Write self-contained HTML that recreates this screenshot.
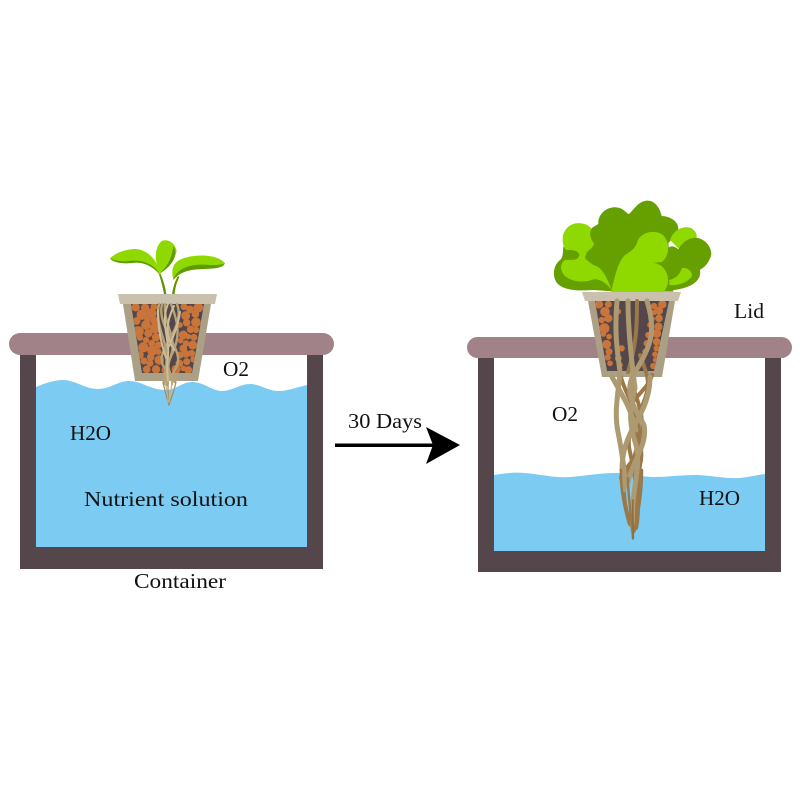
<!DOCTYPE html>
<html><head><meta charset="utf-8"><style>html,body{margin:0;padding:0;background:#fff}svg{display:block}text{font-family:"Liberation Serif","DejaVu Serif",serif;font-size:21px;fill:#111}</style></head><body>
<svg width="800" height="800" viewBox="0 0 800 800" xmlns="http://www.w3.org/2000/svg">
<defs>
<clipPath id="cl"><path d="M131 304H204L192 373H142Z"/></clipPath>
<clipPath id="cr"><path d="M595 301H669L654 371H607Z"/></clipPath>
</defs>
<rect width="800" height="800" fill="#fff"/>

<!-- left container -->
<path d="M36 387C48 382 56 380 63 380C75 380 85 389 98 389C110 389 118 381 129 381C142 381 150 390 166 390C176 390 182 382 192 382C204 382 212 391 222 391C232 391 240 384 250 384C260 384 268 391 278 391C288 391 298 387 307 385V547H36Z" fill="#7bcbf2"/>
<path d="M20 350H36V547H307V350H323V569H20Z" fill="#54464a"/>
<rect x="9" y="333" width="325" height="22" rx="11" fill="#a08288"/>

<!-- left plant -->
<g transform="translate(90 230) scale(.3333)">
<path d="M222 192C218 170 213 150 206 130L211 130C220 150 226 170 229 192Z" fill="#5d9400"/>
<path d="M246 192C250 170 254 155 264 138L268 141C260 158 256 172 254 192Z" fill="#5d9400"/>
<path d="M210 135C205 90 170 55 130 57C100 60 75 70 60 85C70 100 110 102 135 98C165 95 195 115 210 135Z" fill="#8fd900"/>
<path d="M210 135C195 105 165 90 125 92C105 95 80 95 60 85C70 100 110 102 135 98C165 95 195 115 210 135Z" fill="#5f9a00"/>
<path d="M210 130C195 100 190 55 215 33C235 25 255 40 260 62C255 90 235 115 210 130Z" fill="#8fd900"/>
<path d="M210 130C235 105 245 85 250 48C265 75 250 105 210 130Z" fill="#5f9a00"/>
<path d="M250 150C240 110 255 90 290 82C330 72 385 75 405 100C395 118 360 115 320 118C290 120 265 130 250 150Z" fill="#8fd900"/>
<path d="M250 150C258 122 285 106 330 104C355 104 385 108 405 100C395 118 360 115 320 118C290 120 265 130 250 150Z" fill="#5f9a00"/>
</g>
<path d="M118 294H217L215 304H120Z" fill="#c9c1ae"/>
<path d="M123 304H211L198 381H135Z" fill="#ab9f86"/>
<path d="M131 304H204L192 373H142Z" fill="#54464a"/>
<g clip-path="url(#cl)"><g transform="translate(120 300) scale(.3333)" fill="#c8743a" stroke="#c8743a" stroke-width="5">
<circle cx="47" cy="22" r="10"/><circle cx="75" cy="23" r="10"/><circle cx="102" cy="20" r="8"/><circle cx="65" cy="44" r="13"/><circle cx="94" cy="40" r="13"/><circle cx="50" cy="63" r="9"/><circle cx="82" cy="58" r="7"/><circle cx="103" cy="62" r="10"/><circle cx="78" cy="75" r="12"/><circle cx="55" cy="95" r="14"/><circle cx="105" cy="85" r="13"/><circle cx="85" cy="100" r="10"/><circle cx="108" cy="112" r="10"/><circle cx="78" cy="120" r="7"/><circle cx="95" cy="130" r="8"/><circle cx="60" cy="113" r="7"/><circle cx="70" cy="142" r="13"/><circle cx="97" cy="152" r="13"/><circle cx="115" cy="135" r="8"/><circle cx="60" cy="165" r="9"/><circle cx="92" cy="172" r="9"/><circle cx="118" cy="180" r="12"/><circle cx="72" cy="183" r="8"/><circle cx="90" cy="190" r="8"/><circle cx="80" cy="208" r="9"/><circle cx="108" cy="208" r="10"/><circle cx="135" cy="210" r="8"/><circle cx="115" cy="155" r="7"/>
<circle cx="192" cy="20" r="8"/><circle cx="210" cy="28" r="9"/><circle cx="235" cy="23" r="12"/><circle cx="197" cy="47" r="11"/><circle cx="226" cy="42" r="9"/><circle cx="228" cy="67" r="12"/><circle cx="200" cy="68" r="9"/><circle cx="180" cy="75" r="6"/><circle cx="212" cy="88" r="9"/><circle cx="190" cy="105" r="11"/><circle cx="228" cy="90" r="7"/><circle cx="205" cy="110" r="6"/><circle cx="222" cy="112" r="8"/><circle cx="182" cy="122" r="6"/><circle cx="198" cy="130" r="7"/><circle cx="218" cy="135" r="11"/><circle cx="190" cy="145" r="9"/><circle cx="215" cy="160" r="8"/><circle cx="180" cy="165" r="8"/><circle cx="198" cy="162" r="9"/><circle cx="220" cy="178" r="7"/><circle cx="178" cy="190" r="9"/><circle cx="200" cy="185" r="8"/><circle cx="190" cy="205" r="6"/><circle cx="168" cy="208" r="11"/><circle cx="205" cy="210" r="9"/>
</g></g>
<g fill="none" stroke-linecap="round">
<g stroke="#b5a277" stroke-width="2.4"><path d="M159 304C155 322 164 336 166 350S164 372 167 385"/><path d="M165 304C163 322 176 336 172 352S163 372 164 384"/><path d="M171 304C178 322 181 336 172 354S174 372 172 384"/><path d="M177 304C183 320 172 334 164 350S170 372 175 382"/><path d="M162 304C158 320 170 335 176 350S174 368 170 380"/></g>
<g stroke="#cdbd9a" stroke-width="2"><path d="M168 304C160 322 170 340 168 356S168 372 168 384"/><path d="M158 310C158 326 160 340 166 358"/><path d="M174 306C166 322 165 336 174 350"/><path d="M180 312C178 326 172 340 168 348"/></g>
<g stroke="#a68a5c" stroke-width="1.2"><path d="M163 382C165 392 167 398 169 405"/><path d="M176 382C174 392 171 398 169 405"/><path d="M168 382C168 392 168 398 169 405"/></g>
<g stroke="#c4b08a" stroke-width="1.2"><path d="M165 382C167 390 168 396 168 402"/><path d="M172 382C171 390 170 396 169 402"/></g>
</g>

<!-- right container -->
<path d="M494 475C505 473 515 472 525 473C545 475 555 478 570 477C585 476 600 473 615 473C632 473 640 477 655 477C668 477 680 475 695 475C710 475 725 479 740 478C750 477 758 475 765 474V551H494Z" fill="#7bcbf2"/>
<path d="M478 354H494V551H765V354H781V572H478Z" fill="#54464a"/>
<rect x="467" y="337" width="325" height="21" rx="10.5" fill="#a08288"/>

<!-- lettuce -->
<g transform="translate(550 200) scale(.3333)">
<path d="M40 140C38 160 40 172 30 180C10 195 5 230 22 250C45 275 100 272 130 270L200 275V150Z" fill="#669f00"/>
<path d="M38 115C40 85 65 65 95 70C115 73 128 85 130 100L135 140C115 155 100 165 108 178L130 195C150 200 165 215 185 270C170 250 150 235 130 238C100 250 60 245 42 225C30 210 30 190 45 180C60 178 85 185 88 165C85 150 65 150 50 150C40 145 38 130 38 115Z" fill="#8fd900"/>
<path d="M185 275C190 240 195 220 180 205C150 195 110 180 108 165C110 150 130 145 132 130C120 115 115 95 128 82L145 72C143 50 160 25 190 22C215 20 225 35 235 42L255 35V275Z" fill="#669f00"/>
</g>
<g transform="translate(630 200) scale(.3333)">
<path d="M-1 40C15 25 25 5 50 2C75 0 90 25 95 48C120 48 145 65 145 85C145 105 125 115 115 130L130 275H-1Z" fill="#669f00"/>
<path d="M120 120C130 90 160 75 185 85C200 95 205 110 195 125L150 150Z" fill="#8fd900"/>
<path d="M118 272C115 235 120 200 105 180C100 150 120 125 145 148C160 120 190 105 215 118C240 130 250 160 240 175C230 200 215 205 210 210C215 240 190 265 118 272Z" fill="#669f00"/>
<path d="M118 240C135 235 150 225 155 205C170 200 190 215 185 230C170 250 140 258 118 255Z" fill="#8fd900"/>
</g>
<path d="M611 293C615 275 618 262 625 255C633 250 636 247 638 240C642 232 655 229 663 235C670 242 670 255 662 262L651 263C660 262 668 270 668 280C668 286 666 289 663 293Z" fill="#8fd900"/>

<!-- right pot -->
<path d="M582 292H681L678 301H585Z" fill="#c9c1ae"/>
<path d="M588 301H675L662 377H602Z" fill="#ab9f86"/>
<path d="M595 301H669L654 371H607Z" fill="#54464a"/>
<g clip-path="url(#cr)"><g transform="translate(585 295) scale(.3333)" fill="#c8743a" stroke="#c8743a" stroke-width="5">
<circle cx="42" cy="28" r="10"/><circle cx="70" cy="28" r="8"/><circle cx="60" cy="50" r="12"/><circle cx="50" cy="75" r="7"/><circle cx="70" cy="70" r="10"/><circle cx="58" cy="100" r="13"/><circle cx="55" cy="117" r="6"/><circle cx="72" cy="125" r="6"/><circle cx="65" cy="148" r="11"/><circle cx="72" cy="170" r="8"/><circle cx="68" cy="187" r="7"/><circle cx="75" cy="205" r="6"/><circle cx="100" cy="50" r="6"/><circle cx="100" cy="190" r="8"/><circle cx="110" cy="160" r="7"/><circle cx="105" cy="210" r="6"/>
<circle cx="232" cy="28" r="10"/><circle cx="207" cy="33" r="7"/><circle cx="222" cy="47" r="10"/><circle cx="207" cy="52" r="6"/><circle cx="222" cy="70" r="9"/><circle cx="200" cy="72" r="7"/><circle cx="220" cy="95" r="10"/><circle cx="195" cy="90" r="6"/><circle cx="215" cy="115" r="11"/><circle cx="190" cy="120" r="7"/><circle cx="215" cy="140" r="9"/><circle cx="185" cy="145" r="7"/><circle cx="215" cy="160" r="7"/><circle cx="210" cy="178" r="6"/><circle cx="212" cy="195" r="6"/><circle cx="205" cy="213" r="7"/><circle cx="180" cy="170" r="6"/>
</g></g>

<!-- right roots -->
<g fill="none" stroke-linecap="round">
<g stroke="#9a784a" stroke-width="4"><path d="M637 301C637 330 636 345 628 372"/><path d="M640 355C645 370 650 378 647 392C640 420 624 430 630 452C635 475 640 500 634 530"/><path d="M652 375C650 385 640 392 633 402C625 420 647 440 640 465C636 490 640 510 636 528"/><path d="M621 377C625 395 642 415 638 440C635 465 625 470 624 490C624 510 630 520 631 525"/><path d="M632 385C640 405 646 425 640 448C632 465 622 470 621 478"/></g>
<g stroke="#ad9a70" stroke-width="5"><path d="M617 301C614 335 618 355 620 372C618 395 614 412 618 432C622 452 626 475 624 490" /><path d="M628 301C628 330 632 365 635 388C630 410 628 420 636 445C642 470 630 490 633 530" /><path d="M647 301C656 330 652 345 635 372C622 392 636 410 644 425C648 445 632 462 628 482"/><path d="M650 377C650 400 640 415 632 430C624 445 622 460 622 470"/><path d="M612 377C622 395 632 410 636 430"/></g>
<g stroke="#9a784a" stroke-width="2.5"><path d="M621 470C620 490 625 510 629 524"/><path d="M642 470C642 495 638 515 634 532"/><path d="M628 478C628 500 632 520 633 538"/></g>
<g stroke="#8c6c3e" stroke-width="1.5"><path d="M633 500C632 515 634 530 633 539"/></g>
</g>

<!-- arrow -->
<rect x="335" y="443.5" width="100" height="3.5" fill="#000"/>
<path d="M426 427L460 445L426 464L433 445Z" fill="#000"/>

<!-- labels -->
<text x="223" y="376" textLength="26" lengthAdjust="spacingAndGlyphs">O2</text>
<text x="70" y="440" textLength="41" lengthAdjust="spacingAndGlyphs">H2O</text>
<text x="84" y="506" textLength="164" lengthAdjust="spacingAndGlyphs">Nutrient solution</text>
<text x="134" y="588" textLength="92" lengthAdjust="spacingAndGlyphs">Container</text>
<text x="348" y="428" textLength="74" lengthAdjust="spacingAndGlyphs">30 Days</text>
<text x="734" y="318" textLength="30" lengthAdjust="spacingAndGlyphs">Lid</text>
<text x="552" y="421" textLength="26" lengthAdjust="spacingAndGlyphs">O2</text>
<text x="699" y="505" textLength="41" lengthAdjust="spacingAndGlyphs">H2O</text>
</svg>
</body></html>
